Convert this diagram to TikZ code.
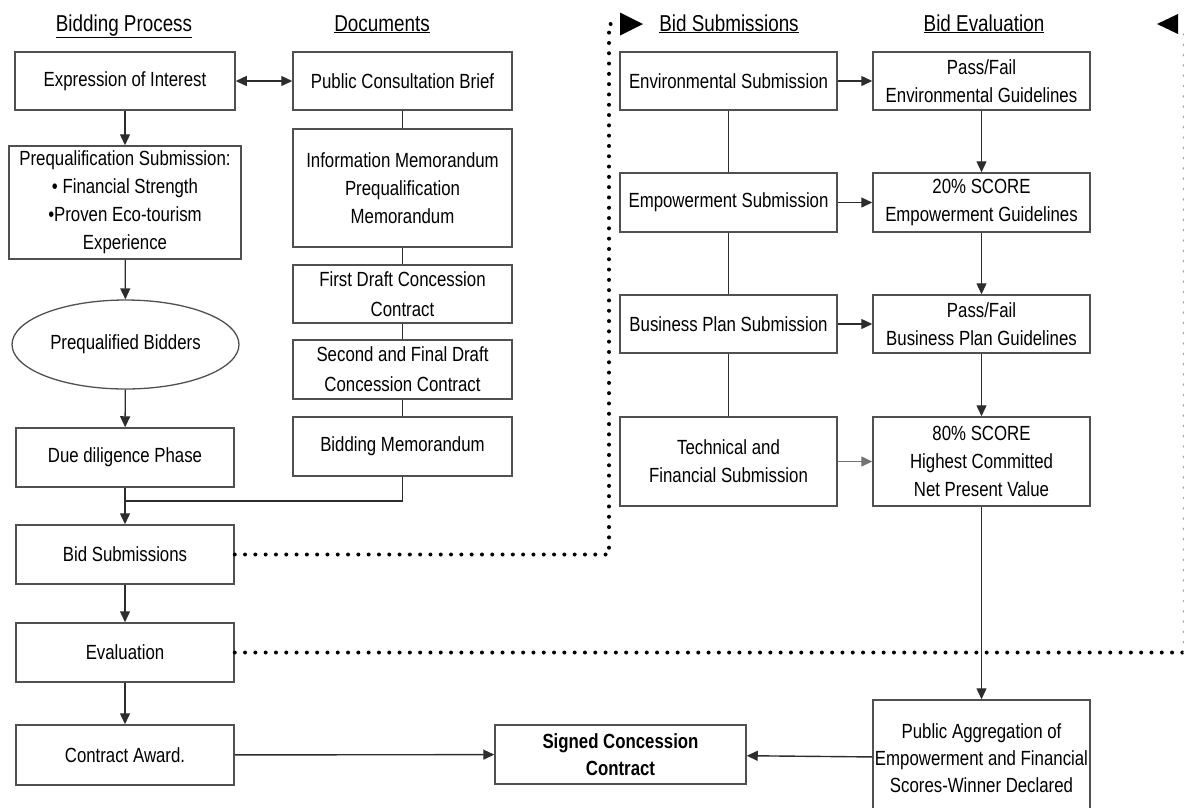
\documentclass[tikz,border=0pt]{standalone}
\usepackage{fontspec}
\setmainfont[FakeStretch=0.82]{Liberation Sans}
\usetikzlibrary{arrows.meta,shapes.geometric}
\definecolor{boxgray}{RGB}{80,80,80}
\definecolor{linegray}{RGB}{45,45,45}
\definecolor{softgray}{RGB}{115,115,115}

\begin{document}
\begin{tikzpicture}[x=1pt,y=-1pt,
  box/.style={draw=boxgray,line width=1.5pt,fill=white,inner sep=0pt,align=center,
              font=\fontsize{20.5}{28}\selectfont},
  head/.style={inner sep=0pt,anchor=base,font=\fontsize{23}{26}\selectfont},
  flow/.style={draw=linegray,line width=1.4pt,-{Triangle[length=11pt,width=10pt]}},
  twoway/.style={draw=linegray,line width=1.4pt,{Triangle[length=11pt,width=10pt]}-{Triangle[length=11pt,width=10pt]}},
  link/.style={draw=linegray,line width=1.4pt},
  dots/.style={line width=4pt,line cap=round,dash pattern=on 0pt off 10.3pt},
  bigtip/.style={draw=none,fill=black}]
\useasboundingbox (0,0) rectangle (1184,807);

% column headings
\node[head] (hbp)  at (124,31) {\underline{Bidding Process}};
\node[head] (hdoc) at (382,31) {\underline{Documents}};
\node[head] (hsub) at (729,31) {\underline{Bid Submissions}};
\node[head] (heva) at (984,31) {\underline{Bid Evaluation}};

% bidding process column
\node[box,minimum width=220,minimum height=58] (eoi) at (125,81) {Expression of Interest};
\node[box,minimum width=232,minimum height=113] (preq) at (125,202.5)
  {Prequalification Submission:\\ • Financial Strength\\ •Proven Eco-tourism\\ Experience};
\node[draw=boxgray,line width=1.3pt,ellipse,inner sep=0pt,minimum width=227,minimum height=89,
      font=\fontsize{20.5}{28}\selectfont] (pqb) at (125.5,344.5) {Prequalified Bidders};
\node[box,minimum width=218,minimum height=59] (due) at (125,457.5) {Due diligence Phase};
\node[box,minimum width=218,minimum height=59] (bsub) at (125,554.5) {Bid Submissions};
\node[box,minimum width=218,minimum height=59] (eval) at (125,652.5) {Evaluation};
\node[box,minimum width=218,minimum height=60] (award) at (125,755) {Contract Award.};

% documents column
\node[box,minimum width=219,minimum height=58] (pcb) at (402.5,81) {Public Consultation Brief};
\node[box,minimum width=219,minimum height=118] (info) at (402.5,188)
  {Information Memorandum\\ Prequalification\\ Memorandum};
\node[box,minimum width=219,minimum height=58,font=\fontsize{20.5}{30}\selectfont] (fdraft) at (402.5,294)
  {First Draft Concession\\ Contract};
\node[box,minimum width=219,minimum height=59,font=\fontsize{20.5}{30}\selectfont] (sdraft) at (402.5,369.5)
  {Second and Final Draft\\ Concession Contract};
\node[box,minimum width=219,minimum height=59] (bmemo) at (402.5,446.5) {Bidding Memorandum};

% bid submissions column
\node[box,minimum width=217,minimum height=58] (envs) at (728.5,81) {Environmental Submission};
\node[box,minimum width=217,minimum height=59] (emps) at (728.5,202.5) {Empowerment Submission};
\node[box,minimum width=217,minimum height=58] (buss) at (728.5,324) {Business Plan Submission};
\node[box,minimum width=217,minimum height=89] (tech) at (728.5,461.5) {Technical and\\ Financial Submission};

% bid evaluation column
\node[box,minimum width=217,minimum height=58] (enve) at (981.5,81) {Pass/Fail\\ Environmental Guidelines};
\node[box,minimum width=217,minimum height=59] (empe) at (981.5,202.5) {20\% SCORE\\ Empowerment Guidelines};
\node[box,minimum width=217,minimum height=58] (buse) at (981.5,324) {Pass/Fail\\ Business Plan Guidelines};
\node[box,minimum width=217,minimum height=89,font=\fontsize{20.5}{28.3}\selectfont] (npv) at (981.5,461.5)
  {80\% SCORE\\ Highest Committed\\ Net Present Value};
\node[box,minimum width=217,minimum height=116,font=\fontsize{20.5}{26.7}\selectfont] (agg) at (981.5,758)
  {Public Aggregation of\\ Empowerment and Financial\\ Scores-Winner Declared};

% outcome
\node[box,minimum width=251,minimum height=59,font=\bfseries\fontsize{20.5}{26.7}\selectfont] (signed) at (620.5,754.5)
  {Signed Concession\\ Contract};

% bidding process flow
\draw[twoway] (eoi) -- (pcb);
\draw[flow] (eoi) -- (preq);
\draw[flow] (preq) -- (pqb);
\draw[flow] (pqb) -- (due);
\coordinate (merge) at (125,501);
\draw[link] (due.south) -- (merge);
\draw[link] (bmemo.south) |- (merge);
\draw[flow] (merge) -- (bsub.north);
\draw[flow] (bsub) -- (eval);
\draw[flow] (eval) -- (award);
\draw[flow] (award) -- (signed);
\draw[flow] (agg) -- (signed);

% documents chain
\draw[link] (pcb) -- (info);
\draw[link] (info) -- (fdraft);
\draw[link] (fdraft) -- (sdraft);
\draw[link] (sdraft) -- (bmemo);

% submissions chain and evaluation
\draw[link] (envs) -- (emps);
\draw[link] (emps) -- (buss);
\draw[link] (buss) -- (tech);
\draw[flow] (envs) -- (enve);
\draw[flow] (emps) -- (empe);
\draw[flow] (buss) -- (buse);
\draw[flow,draw=softgray] (tech) -- (npv);
\draw[flow] (enve) -- (empe);
\draw[flow] (empe) -- (buse);
\draw[flow] (buse) -- (npv);
\draw[flow] (npv) -- (agg);

% dotted cross-references to the detail panels
\coordinate (subtip) at (643,24);
\coordinate (evatip) at (1157,24);
\draw[dots] (bsub.east) -- (609,554.5) -- (609,24) -- (620,24);
\fill[bigtip] (subtip) -- ++(-23,-11.5) -- ++(0,23) -- cycle;
\draw[dots] (eval.east) -- (1184,652.5);
\draw[dots,black!35,line width=3pt] (1184,652.5) -- (1184,34);
\fill[bigtip] (evatip) -- ++(21,-10) -- ++(0,20) -- cycle;
\end{tikzpicture}
\end{document}
